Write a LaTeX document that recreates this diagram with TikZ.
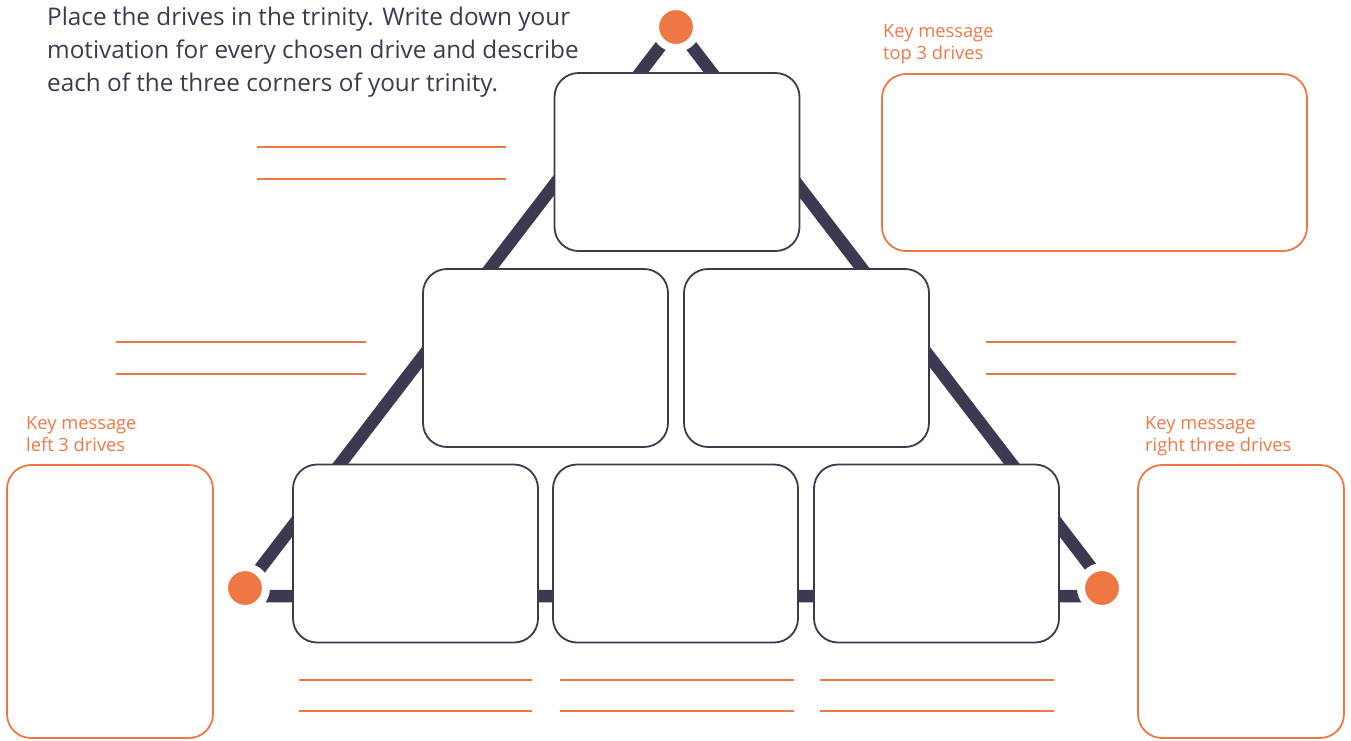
\documentclass[tikz,border=0pt]{standalone}
\usepackage{fontspec}
\setmainfont{Open Sans}
\definecolor{dk}{HTML}{3C3950}
\definecolor{og}{HTML}{EF7744}
\begin{document}
\begin{tikzpicture}[x=1pt,y=-1pt,
  tri/.style={draw=dk,line width=12.5pt,line join=round},
  dbox/.style={draw=dk,line width=1.8pt,fill=white,rounded corners=24pt,minimum width=245pt,minimum height=178pt,inner sep=0pt},
  obox/.style={draw=og,line width=1.8pt,fill=white,rounded corners=24pt,inner sep=0pt},
  dot/.style={circle,fill=og,draw=white,line width=8pt,minimum size=42pt,inner sep=0pt},
  wline/.style={draw=og,line width=1.2pt},
  klabel/.style={text=og,font=\fontsize{18.3}{22.5}\selectfont,align=left,anchor=north west,inner sep=0pt}]
\useasboundingbox (0,0) rectangle (1351,740);
% triangle
\coordinate (apex) at (676,26);
\coordinate (bl) at (239,596);
\coordinate (br) at (1113,596);
\draw[tri] (apex) -- (bl) -- (br) -- cycle;
% dark boxes
\node[dbox] (t) at (677,162) {};
\node[dbox] (ml) at (545.5,358) {};
\node[dbox] (mr) at (806.5,358) {};
\node[dbox] (b1) at (415.5,553.5) {};
\node[dbox] (b2) at (675.5,553.5) {};
\node[dbox] (b3) at (936.5,553.5) {};
% dots
\node[dot] (dtop) at (676,27) {};
\node[dot] (dleft) at (245,588) {};
\node[dot] (dright) at (1102,588) {};
% orange boxes
\node[obox,minimum width=425pt,minimum height=177pt] (kt) at (1094.5,162.5) {};
\node[obox,minimum width=206pt,minimum height=273pt] (kl) at (110,601.5) {};
\node[obox,minimum width=206pt,minimum height=273pt] (kr) at (1241,601.5) {};
% labels
\node[klabel] (lt) at (883,24) {Key message\\top 3 drives};
\node[klabel] (ll) at (26,416) {Key message\\left 3 drives};
\node[klabel] (lr) at (1145,416) {Key message\\right three drives};
% instruction
\node[text=dk,font=\fontsize{24.3}{33}\selectfont,align=left,anchor=north west,inner sep=0pt] (instr) at (47,7) {Place the drives in the trinity. Write down your\\motivation for every chosen drive and describe\\each of the three corners of your trinity.};
% writing lines
\coordinate (a1) at (257,147); \coordinate (a2) at (506,147);
\coordinate (a3) at (257,179); \coordinate (a4) at (506,179);
\draw[wline] (a1) -- (a2); \draw[wline] (a3) -- (a4);
\coordinate (c1) at (116,342); \coordinate (c2) at (366,342);
\coordinate (c3) at (116,374); \coordinate (c4) at (366,374);
\draw[wline] (c1) -- (c2); \draw[wline] (c3) -- (c4);
\coordinate (e1) at (986,342); \coordinate (e2) at (1236,342);
\coordinate (e3) at (986,374); \coordinate (e4) at (1236,374);
\draw[wline] (e1) -- (e2); \draw[wline] (e3) -- (e4);
\foreach \xa/\xb [count=\i] in {299/532,560/794,820/1054}{
  \coordinate (f\i a) at (\xa,680); \coordinate (f\i b) at (\xb,680);
  \coordinate (g\i a) at (\xa,711); \coordinate (g\i b) at (\xb,711);
  \draw[wline] (f\i a) -- (f\i b); \draw[wline] (g\i a) -- (g\i b);
}
\end{tikzpicture}
\end{document}
